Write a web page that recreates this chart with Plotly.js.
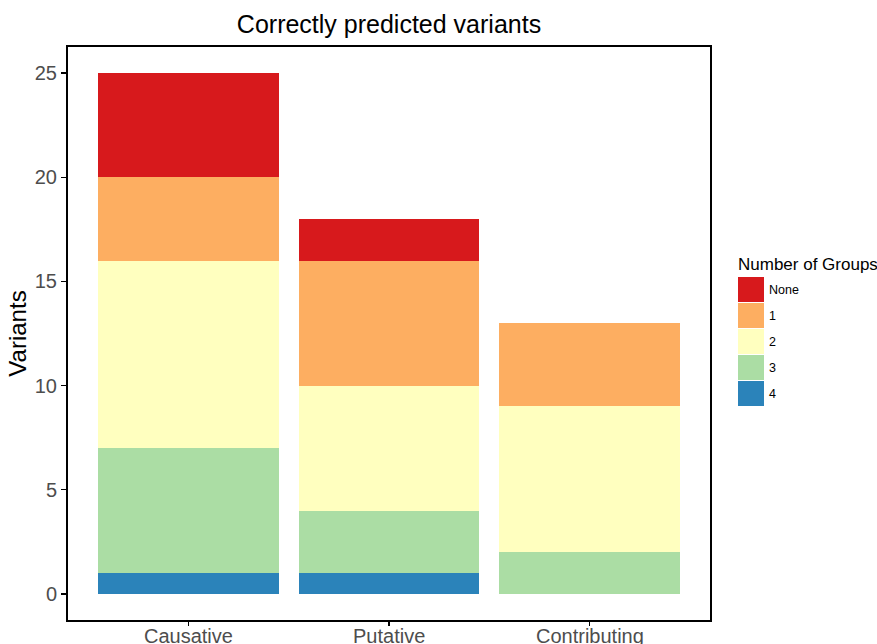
<!DOCTYPE html>
<html>
<head>
<meta charset="utf-8">
<script src="https://cdn.plot.ly/plotly-3.0.1.min.js"></script>
<style>html,body{margin:0;padding:0;background:#fff;}#chart{width:877px;height:644px;}</style>
</head>
<body>
<div id="chart"></div>
<script>
const categories = ["Causative", "Putative", "Contributing"];
const groupNames = ["None", "1", "2", "3", "4"];
const groupColors = ["#D7191C", "#FDAE61", "#FFFFBF", "#ABDDA4", "#2B83BA"];
const valuesNone = [5, 2, 0];
const values1 = [4, 6, 4];
const values2 = [9, 6, 7];
const values3 = [6, 3, 2];
const values4 = [1, 1, 0];
const yTicks = [0, 5, 10, 15, 20, 25];

const seriesValues = [valuesNone, values1, values2, values3, values4];

// stack from bottom: 4, 3, 2, 1, None
const traces = [];
for (let i = groupNames.length - 1; i >= 0; i--) {
  traces.push({
    type: "bar",
    name: groupNames[i],
    x: categories,
    y: seriesValues[i],
    marker: {color: groupColors[i], line: {width: 0}},
    showlegend: false,
    hoverinfo: "x+y+name"
  });
}

// custom legend (ggplot-style square keys)
const L = 68, R = 710, T = 47, B = 620;
const pw = R - L, ph = B - T;
const px = v => (v - L) / pw;
const py = v => (B - v) / ph;
const shapes = [];
const annotations = [];
annotations.push({
  xref: "paper", yref: "paper", x: px(736), y: py(264), xanchor: "left", yanchor: "middle",
  text: "Number of Groups", showarrow: false, font: {size: 17, color: "#000"}
});
groupNames.forEach((g, k) => {
  const top = 277 + k * 26;
  shapes.push({
    type: "rect", xref: "paper", yref: "paper",
    x0: px(738), x1: px(764), y0: py(top + 25), y1: py(top),
    fillcolor: groupColors[k], line: {width: 0}
  });
  annotations.push({
    xref: "paper", yref: "paper", x: px(767), y: py(top + 13), xanchor: "left", yanchor: "middle",
    text: g, showarrow: false, font: {size: 12.5, color: "#000"}
  });
});
// x tick labels, placed on the category scale (raised to sit like the reference)
categories.forEach(c => {
  annotations.push({
    xref: "x", yref: "paper", x: c, y: 0, xanchor: "center", yanchor: "top", yshift: -3,
    text: c, showarrow: false, font: {size: 20, color: "#4d4d4d"}
  });
});

const layout = {
  width: 877, height: 644,
  margin: {l: L, r: 877 - R, t: T, b: 644 - B, pad: 0},
  paper_bgcolor: "#fff", plot_bgcolor: "#fff",
  font: {family: "Liberation Sans, Arial, sans-serif", color: "#000"},
  title: {text: "Correctly predicted variants", x: (L + R) / 2 / 877, xanchor: "center", y: 1 - 24 / 644, yanchor: "middle", font: {size: 25, color: "#000"}},
  barmode: "stack",
  bargap: 0.1,
  showlegend: false,
  xaxis: {
    range: [-0.6, 2.6], showgrid: false, zeroline: false,
    showline: true, linecolor: "#000", linewidth: 2, mirror: true,
    ticks: "outside", ticklen: 4, tickcolor: "#000", tickwidth: 1.3,
    showticklabels: false, fixedrange: true
  },
  yaxis: {
    range: [-1.25, 26.25], showgrid: false, zeroline: false,
    showline: true, linecolor: "#000", linewidth: 2, mirror: true,
    tickvals: yTicks, ticktext: yTicks.map(String),
    ticks: "outside", ticklen: 5, tickcolor: "#000", tickwidth: 1.3,
    tickfont: {size: 20, color: "#4d4d4d"},
    title: {text: "Variants", font: {size: 24, color: "#000"}, standoff: 1},
    fixedrange: true
  },
  shapes: shapes,
  annotations: annotations
};

Plotly.newPlot("chart", traces, layout, {displayModeBar: false, staticPlot: true});
</script>
</body>
</html>
